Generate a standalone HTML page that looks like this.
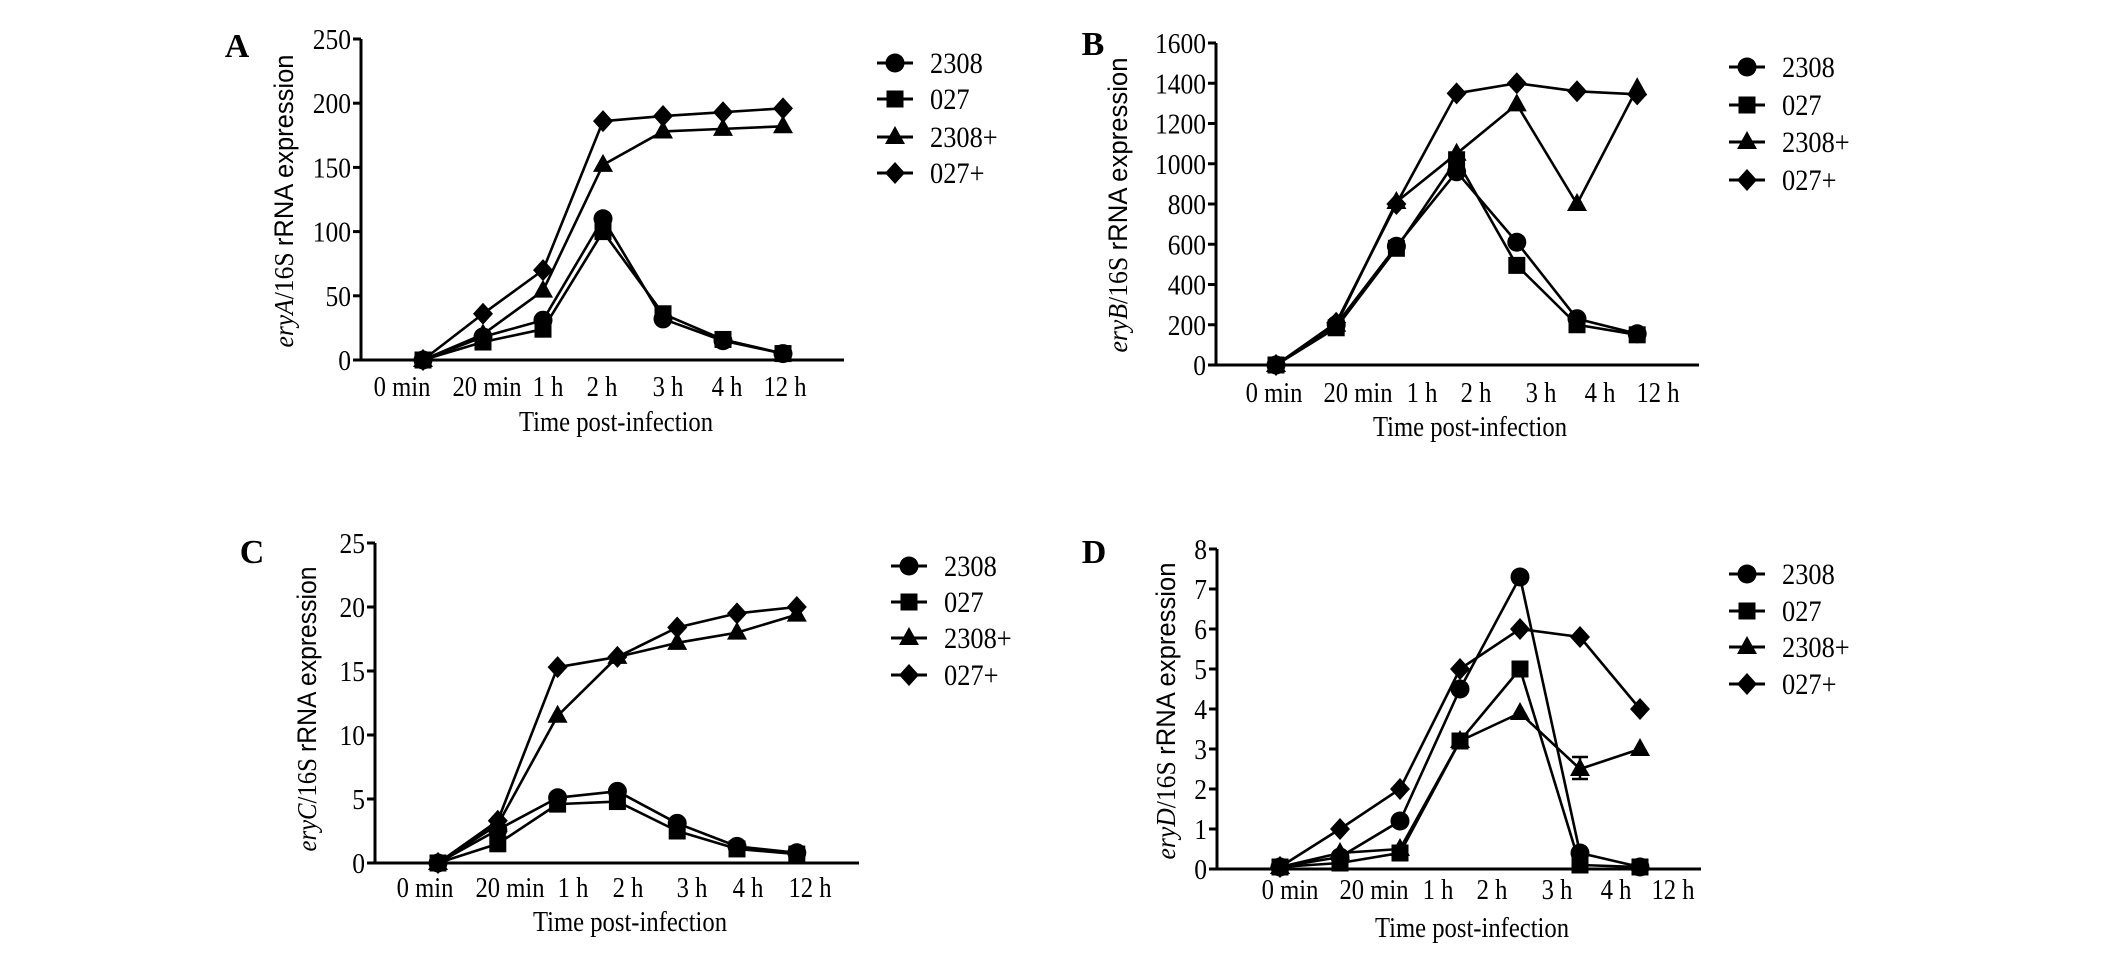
<!DOCTYPE html>
<html><head><meta charset="utf-8"><style>
html,body{margin:0;padding:0;background:#fff;}
svg{display:block;}
text{font-family:"Liberation Serif",serif;fill:#000;}
</style></head>
<body>
<svg id="chart" width="2126" height="955" viewBox="0 0 2126 955" xmlns="http://www.w3.org/2000/svg"></svg>
<script>
const categories = ["0 min","20 min","1 h","2 h","3 h","4 h","12 h"];
const seriesNames = ["2308","027","2308+","027+"];
const markers = ["circle","square","triangle","diamond"];
// Panel A eryA
const a2308 = [0,18,31,110,32,15,5];
const a027 = [0,14,24,100,36,16,5];
const a2308p = [0,20,54,152,178,180,182];
const a027p = [0,36,70,186,190,193,196];
const aTicks = [0,50,100,150,200,250];
// Panel B eryB
const b2308 = [0,200,590,960,610,230,155];
const b027 = [0,185,580,1020,495,200,150];
const b2308p = [0,200,810,1050,1295,800,1375];
const b027p = [0,210,800,1350,1400,1360,1345];
const bTicks = [0,200,400,600,800,1000,1200,1400,1600];
// Panel C eryC
const c2308 = [0,2.6,5.1,5.6,3.1,1.3,0.8];
const c027 = [0,1.5,4.6,4.8,2.5,1.1,0.7];
const c2308p = [0,3.0,11.5,16.1,17.2,18.0,19.4];
const c027p = [0,3.3,15.3,16.1,18.4,19.5,20.0];
const cTicks = [0,5,10,15,20,25];
// Panel D eryD
const d2308 = [0.05,0.3,1.2,4.5,7.3,0.4,0.05];
const d027 = [0.05,0.15,0.4,3.2,5.0,0.1,0.05];
const d2308p = [0.05,0.4,0.5,3.2,3.9,2.5,3.0];
const d027p = [0.05,1.0,2.0,5.0,6.0,5.8,4.0];
const dTicks = [0,1,2,3,4,5,6,7,8];

const NS = "http://www.w3.org/2000/svg";
const svg = document.getElementById("chart");
function el(tag, attrs, parent){
  const e = document.createElementNS(NS, tag);
  for (const k in attrs) e.setAttribute(k, attrs[k]);
  (parent||svg).appendChild(e);
  return e;
}
function txt(parent, x, y, s, size, anchor, sx, weight){
  const t = el("text", {transform:`translate(${x},${y}) scale(${sx||0.88},1)`, "font-size":size, "text-anchor":anchor||"middle", "font-weight":weight||"normal"}, parent);
  t.textContent = s;
  return t;
}
function marker(parent, type, x, y){
  let m;
  if (type==="circle") m = el("circle",{cx:x,cy:y,r:9.5,fill:"#000"},parent);
  else if (type==="square") m = el("rect",{x:x-8.5,y:y-8.5,width:17,height:17,fill:"#000"},parent);
  else if (type==="triangle") m = el("polygon",{points:`${x},${y-11} ${x+10},${y+7} ${x-10},${y+7}`,fill:"#000"},parent);
  else m = el("polygon",{points:`${x},${y-11} ${x+10},${y} ${x},${y+11} ${x-10},${y}`,fill:"#000"},parent);
  return m;
}
function panel(cfg){
  const g = el("g",{});
  
  
  const yMax = cfg.ticks[cfg.ticks.length-1];
  const yS = v => cfg.y0 - (v / yMax) * (cfg.y0 - cfg.yTop);
  const xS = i => cfg.x0pt + i * cfg.dx;
  const L = txt(g, cfg.letterX, cfg.letterY, cfg.id, 34, "middle", 1, "bold");
  
  
  const ax = el("g",{},g);
  
  
  el("line",{x1:cfg.ax,y1:cfg.yTop,x2:cfg.ax,y2:cfg.y0+1.5,stroke:"#000","stroke-width":3},ax);
  cfg.ticks.forEach(t=>{
    el("line",{x1:cfg.ax-8,y1:yS(t),x2:cfg.ax,y2:yS(t),stroke:"#000","stroke-width":3},ax);
    const tl = txt(ax, cfg.ax-10, yS(t)+10, String(t), 29, "end");
    
    
  });
  const xa = el("g",{},g);
  
  
  el("line",{x1:cfg.ax-1.5,y1:cfg.y0,x2:cfg.axEnd,y2:cfg.y0,stroke:"#000","stroke-width":3},xa);
  categories.forEach((c,i)=>{
    const tl = txt(xa, cfg.labX[i], cfg.labY, c, 28, "middle");
    
    
  });
  const xt = txt(g, cfg.titleX, cfg.titleY, "Time post-infection", 28, "middle");
  
  
  const yt = el("text",{transform:`translate(${cfg.ytX},${cfg.ytY}) rotate(-90)`,"text-anchor":"middle","font-size":27,textLength:cfg.ytLen,lengthAdjust:"spacingAndGlyphs"},g);
  
  
  const t1 = el("tspan",{"font-style":"italic","font-family":"Liberation Serif, serif"},yt); t1.textContent = cfg.gene;
  const t2 = el("tspan",{"font-family":"Liberation Serif, serif"},yt); t2.textContent = "/16S ";
  const t3 = el("tspan",{"font-family":"Liberation Sans, sans-serif"},yt); t3.textContent = "rRNA expression";
  cfg.series.forEach((vals, si)=>{
    const sg = el("g",{},g);
    
    
    const pts = vals.map((v,i)=>`${xS(i)},${yS(v)}`).join(" ");
    el("polyline",{points:pts,fill:"none",stroke:"#000","stroke-width":2.6,"stroke-linejoin":"round"},sg);
    vals.forEach((v,i)=>{
      const m = marker(sg, markers[si], xS(i), yS(v));
      
      
    });
  });
  if (cfg.err){
    const e = cfg.err;
    const eg = el("g",{},g);
    
    
    el("line",{x1:xS(e.i),y1:yS(e.lo),x2:xS(e.i),y2:yS(e.hi),stroke:"#000","stroke-width":2.5},eg);
    el("line",{x1:xS(e.i)-8,y1:yS(e.lo),x2:xS(e.i)+8,y2:yS(e.lo),stroke:"#000","stroke-width":2.5},eg);
    el("line",{x1:xS(e.i)-8,y1:yS(e.hi),x2:xS(e.i)+8,y2:yS(e.hi),stroke:"#000","stroke-width":2.5},eg);
  }
  const lg = el("g",{},g);
  
  
  seriesNames.forEach((n,si)=>{
    const y = cfg.legY[si];
    const eg = el("g",{},lg);
    
    
    el("line",{x1:cfg.legX-18,y1:y,x2:cfg.legX+18,y2:y,stroke:"#000","stroke-width":3},eg);
    marker(eg, markers[si], cfg.legX, y);
    txt(eg, cfg.legX+35, y+10, n, 30, "start");
  });
}
panel({id:"A", gene:"eryA", ticks:aTicks, series:[a2308,a027,a2308p,a027p],
  ax:361, axEnd:844, yTop:39, y0:360, x0pt:423, dx:60,
  labX:[402,487,548,602,668,727,785], labY:396, titleX:616, titleY:431,
  ytX:293, ytY:201, ytLen:293, letterX:237, letterY:57,
  legX:895, legY:[63,99,137,173]});
panel({id:"B", gene:"eryB", ticks:bTicks, series:[b2308,b027,b2308p,b027p],
  ax:1216, axEnd:1699, yTop:43, y0:365, x0pt:1276, dx:60.2,
  labX:[1274,1358,1422,1476,1541,1600,1658], labY:402, titleX:1470, titleY:436,
  ytX:1127, ytY:205, ytLen:295, letterX:1093, letterY:55,
  legX:1747, legY:[67,105,142,180]});
panel({id:"C", gene:"eryC", ticks:cTicks, series:[c2308,c027,c2308p,c027p],
  ax:375, axEnd:859, yTop:543, y0:863, x0pt:438, dx:59.8,
  labX:[425,510,573,628,692,748,810], labY:897, titleX:630, titleY:931,
  ytX:316, ytY:709, ytLen:285, letterX:252, letterY:563,
  legX:909, legY:[566,602,638,675]});
panel({id:"D", gene:"eryD", ticks:dTicks, series:[d2308,d027,d2308p,d027p],
  ax:1217, axEnd:1701, yTop:549, y0:869, x0pt:1280, dx:60,
  labX:[1290,1374,1438,1492,1557,1616,1673], labY:899, titleX:1472, titleY:937,
  ytX:1175, ytY:711, ytLen:297, letterX:1094, letterY:563,
  legX:1747, legY:[574,611,647,684],
  err:{i:5, lo:2.25, hi:2.8}});
</script>
</body></html>
